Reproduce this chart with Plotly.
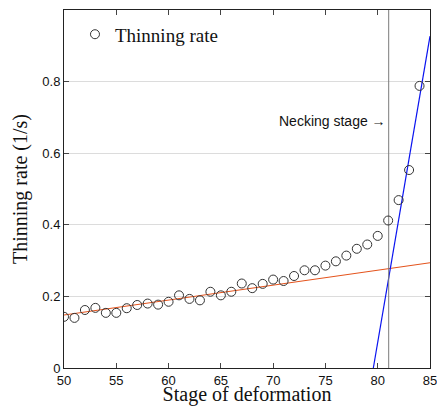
import plotly.graph_objects as go

stage = list(range(50, 85))
thinning = [0.143, 0.140, 0.162, 0.168, 0.154, 0.154, 0.167, 0.176, 0.180, 0.177,
            0.185, 0.203, 0.193, 0.189, 0.213, 0.203, 0.213, 0.236, 0.223, 0.235,
            0.247, 0.243, 0.257, 0.273, 0.273, 0.286, 0.298, 0.314, 0.333, 0.345,
            0.369, 0.412, 0.469, 0.553, 0.788]

fit1_x = [50, 85]
fit1_y = [0.148, 0.294]
fit2_x = [79.58, 85]
fit2_y = [0.0, 0.927]
necking_x = 81.05

xticks = [50, 55, 60, 65, 70, 75, 80, 85]
yticks = [0, 0.2, 0.4, 0.6, 0.8, 1]

serif = "Liberation Serif"
sans = "Liberation Sans"

fig = go.Figure()
fig.add_trace(go.Scatter(x=fit1_x, y=fit1_y, mode="lines",
                         line=dict(color="#E4531C", width=1.2), showlegend=False))
fig.add_trace(go.Scatter(x=fit2_x, y=fit2_y, mode="lines",
                         line=dict(color="#0A14F0", width=1.2), showlegend=False))
fig.add_trace(go.Scatter(x=[necking_x, necking_x], y=[0, 1], mode="lines",
                         line=dict(color="#7a7a7a", width=1), showlegend=False))
fig.add_trace(go.Scatter(x=stage, y=thinning, mode="markers", name="Thinning rate",
                         marker=dict(symbol="circle-open", size=9,
                                     color="#333333", line=dict(width=1))))

fig.add_annotation(x=necking_x, y=0.69, xanchor="right", yanchor="middle",
                   text="Necking stage \u2192", showarrow=False,
                   font=dict(family=sans, size=14, color="#111"), xshift=-1)

fig.update_layout(
    width=429, height=398,
    margin=dict(l=56, r=7, t=2, b=38),
    plot_bgcolor="white", paper_bgcolor="white",
    legend=dict(x=0.03, y=0.985, xanchor="left", yanchor="top",
                bgcolor="rgba(0,0,0,0)", font=dict(family=serif, size=19, color="#111")),
    xaxis=dict(range=[50, 85], tickvals=xticks, ticks="inside", ticklen=5,
               showline=True, linecolor="#222", linewidth=1, mirror="ticks",
               showgrid=False, zeroline=False, ticklabeloverflow="allow",
               automargin=False,
               tickfont=dict(family=sans, size=13, color="#111"),
               title=dict(text="Stage of deformation", standoff=4,
                          font=dict(family=serif, size=20, color="#111"))),
    yaxis=dict(range=[0, 1], tickvals=yticks, ticktext=["0", "0.2", "0.4", "0.6", "0.8", "1"],
               ticks="inside", ticklen=5, automargin=False,
               showline=True, linecolor="#222", linewidth=1, mirror="ticks",
               showgrid=True, gridcolor="#dcdcdc", zeroline=False,
               tickfont=dict(family=sans, size=13, color="#111"),
               title=dict(text="Thinning rate (1/s)", standoff=9,
                          font=dict(family=serif, size=20, color="#111"))),
)

fig.write_html("out.html", config={"displayModeBar": False})
